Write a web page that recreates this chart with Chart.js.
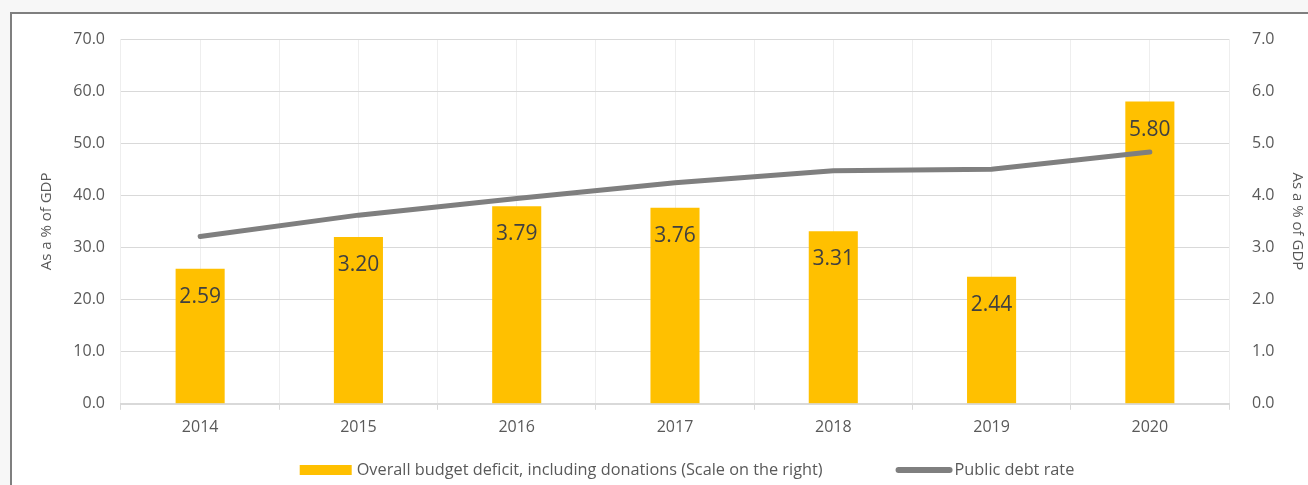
<!DOCTYPE html>
<html>
<head>
<meta charset="utf-8">
<script src="https://cdn.jsdelivr.net/npm/chart.js@4"></script>
<style>
  html, body { margin: 0; padding: 0; background: #f7f7f7; }
  .frame { position: absolute; left: 10px; top: 12px; width: 1310px; height: 480px; border: 2px solid #7f7f7f; background: #fff; }
  .wrap { position: absolute; left: 0; top: 0; width: 1308px; height: 485px; }
</style>
</head>
<body>
<div class="frame"></div>
<div class="wrap"><canvas id="chart"></canvas></div>
<script>
const years = ['2014', '2015', '2016', '2017', '2018', '2019', '2020'];
const deficit = [2.59, 3.20, 3.79, 3.76, 3.31, 2.44, 5.80];
const debtRate = [32.1, 36.2, 39.4, 42.4, 44.7, 45.0, 48.3];
const deficitLabel = 'Overall budget deficit, including donations (Scale on the right)';
const debtLabel = 'Public debt rate';

const FONT = "'Open Sans', sans-serif";
const YELLOW = '#FFC000';
const GREY = '#7f7f7f';
const TEXT = '#595959';

// value inside the top of each bar
const barValues = {
    id: 'barValues',
    afterDatasetsDraw(chart) {
        const ctx = chart.ctx;
        const meta = chart.getDatasetMeta(0);
        ctx.save();
        ctx.font = '21px ' + FONT;
        ctx.fillStyle = '#404040';
        ctx.textAlign = 'center';
        ctx.textBaseline = 'middle';
        meta.data.forEach((bar, i) => {
            ctx.fillText(deficit[i].toFixed(2), bar.x, bar.y + 28);
        });
        ctx.restore();
    }
};

// legend under the x axis: box for the bars, thick line for the debt rate
const bottomLegend = {
    id: 'bottomLegend',
    afterDraw(chart) {
        const ctx = chart.ctx;
        const area = chart.chartArea;
        ctx.save();
        ctx.font = '16.3px ' + FONT;
        const w1 = ctx.measureText(deficitLabel).width;
        const w2 = ctx.measureText(debtLabel).width;
        const total = 52 + 5 + w1 + 73 + 57 + 2 + w2;
        let x = (area.left + area.right) / 2 + 12 - total / 2;
        const y = chart.height - 15;

        ctx.fillStyle = YELLOW;
        ctx.fillRect(x, y - 5, 52, 10);
        x += 57;
        ctx.fillStyle = TEXT;
        ctx.textBaseline = 'middle';
        ctx.fillText(deficitLabel, x, y);
        x += w1 + 73;

        ctx.strokeStyle = GREY;
        ctx.lineWidth = 6;
        ctx.lineCap = 'round';
        ctx.beginPath();
        ctx.moveTo(x + 3, y);
        ctx.lineTo(x + 54, y);
        ctx.stroke();
        x += 59;
        ctx.fillText(debtLabel, x, y);
        ctx.restore();
    }
};

new Chart(document.getElementById('chart'), {
    data: {
        labels: years,
        datasets: [
            {
                type: 'bar',
                label: deficitLabel,
                data: deficit,
                yAxisID: 'y2',
                backgroundColor: YELLOW,
                categoryPercentage: 1,
                barPercentage: 0.31,
                order: 2,
            },
            {
                type: 'line',
                label: debtLabel,
                data: debtRate,
                yAxisID: 'y',
                borderColor: GREY,
                borderWidth: 5,
                borderCapStyle: 'round',
                pointRadius: 0,
                tension: 0,
                order: 1,
            },
        ],
    },
    options: {
        responsive: true,
        maintainAspectRatio: false,
        animation: false,
        layout: { padding: { left: 30, right: 0, top: 39, bottom: 40 } },
        plugins: {
            tooltip: { enabled: false },
            legend: { display: false },
        },
        scales: {
            x: {
                type: 'category',
                offset: true,
                grid: { offset: true, color: '#eeeeee', tickColor: '#d9d9d9', tickLength: 6 },
                border: { color: '#d9d9d9', width: 2 },
                ticks: { font: { family: FONT, size: 16 }, color: TEXT, padding: 8 },
            },
            xc: {
                type: 'category',
                position: 'bottom',
                offset: true,
                grid: { offset: false, color: '#eeeeee', drawTicks: false },
                border: { display: false },
                ticks: { display: false },
            },
            y: {
                position: 'left',
                min: 0,
                max: 70,
                ticks: { stepSize: 10, callback: v => v.toFixed(1), font: { family: FONT, size: 16 }, color: TEXT, padding: 16 },
                grid: { color: '#d9d9d9', drawTicks: false },
                border: { display: false },
                title: { display: true, text: 'As a % of GDP', font: { family: FONT, size: 15 }, color: TEXT, padding: { top: 8, bottom: 4 } },
                afterFit: s => { s.width = 91; },
            },
            y2: {
                position: 'right',
                min: 0,
                max: 7,
                ticks: { stepSize: 1, callback: v => v.toFixed(1), font: { family: FONT, size: 16 }, color: TEXT, padding: 23 },
                grid: { drawOnChartArea: false, drawTicks: false },
                border: { display: false },
                title: { display: true, text: 'As a % of GDP', font: { family: FONT, size: 15 }, color: TEXT, padding: { top: 2, bottom: 4 } },
                afterFit: s => { s.width = 79; },
            },
        },
    },
    plugins: [barValues, bottomLegend],
});
</script>
</body>
</html>
